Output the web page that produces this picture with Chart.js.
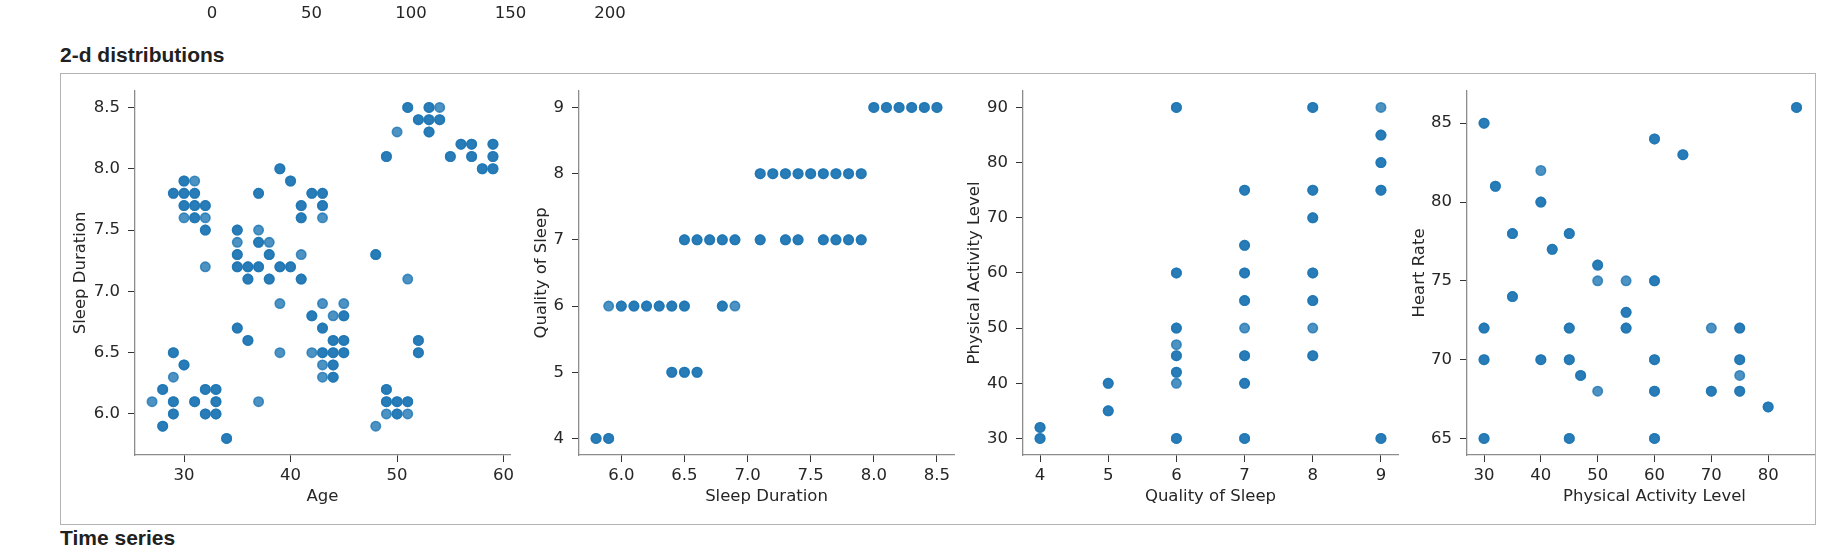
<!DOCTYPE html>
<html>
<head>
<meta charset="utf-8">
<script src="https://cdn.jsdelivr.net/npm/chart.js@4.4.0/dist/chart.umd.min.js"></script>
<style>
  body { margin: 0; background: #fff; width: 1822px; height: 552px; overflow: hidden; position: relative; font-family: "Liberation Sans", Arial, sans-serif; }
  h3 { position: absolute; left: 60px; margin: 0; font-size: 21px; line-height: 24px; font-weight: bold; color: #212121; }
  #box { position: absolute; left: 60px; top: 73px; width: 1754px; height: 450px; border: 1px solid #b3b3b3; overflow: hidden; }
  canvas { position: absolute; }
</style>
</head>
<body>
<canvas id="prev" width="560" height="40" style="left:150px;top:-10px"></canvas>
<h3 style="top:43px">2-d distributions</h3>
<div id="box">
  <canvas id="c1" width="470" height="434"></canvas>
  <canvas id="c2" width="470" height="434"></canvas>
  <canvas id="c3" width="470" height="434"></canvas>
  <canvas id="c4" width="470" height="434"></canvas>
</div>
<h3 style="top:526px">Time series</h3>
<script>
// tick labels left over from the chart above (only its x axis is visible)
let prevTicks = [0, 50, 100, 150, 200];

let ageTicks = [30, 40, 50, 60];
let sleepTicks = [6.0, 6.5, 7.0, 7.5, 8.0, 8.5];
let qualityTicks = [4, 5, 6, 7, 8, 9];
let activityTicks = [30, 40, 50, 60, 70, 80, 90];
let heartTicks = [65, 70, 75, 80, 85];

// Age vs Sleep Duration: ages seen on each sleep-duration row
let sleepRows = [8.5, 8.4, 8.3, 8.2, 8.1, 8.0, 7.9, 7.8, 7.7, 7.6, 7.5, 7.4, 7.3, 7.2, 7.1,
                 6.9, 6.8, 6.7, 6.6, 6.5, 6.4, 6.3, 6.2, 6.1, 6.0, 5.9, 5.8];
let agesOnRow = [
  [51, 51, 53, 53, 54],
  [52, 52, 53, 53, 54, 54],
  [50, 53, 53],
  [56, 56, 57, 57, 59, 59],
  [49, 49, 55, 55, 57, 57, 59, 59],
  [39, 39, 58, 58, 59, 59],
  [30, 30, 31, 40, 40],
  [29, 29, 30, 30, 31, 31, 37, 37, 42, 42, 43, 43],
  [30, 30, 31, 31, 32, 32, 41, 41, 43, 43],
  [30, 31, 31, 32, 41, 41, 43],
  [32, 32, 35, 35, 37],
  [35, 37, 37, 38],
  [35, 35, 38, 38, 41, 48, 48],
  [32, 35, 35, 36, 36, 37, 37, 39, 39, 40, 40],
  [36, 36, 38, 38, 41, 41, 51],
  [39, 43, 45],
  [42, 42, 44, 45, 45],
  [35, 35, 43, 43],
  [36, 36, 44, 44, 45, 45, 52, 52],
  [29, 29, 39, 42, 43, 43, 44, 44, 45, 45, 52, 52],
  [30, 30, 43, 44, 44],
  [29, 43, 44, 44],
  [28, 28, 32, 32, 33, 33, 49, 49],
  [27, 29, 29, 31, 31, 33, 33, 37, 49, 49, 50, 50, 51, 51],
  [29, 29, 32, 32, 33, 33, 49, 50, 50, 51],
  [28, 28, 48],
  [34, 34],
];

// Sleep Duration vs Quality of Sleep: durations seen on each quality row
let qualityRows = [9, 8, 7, 6, 5, 4];
let durationsOnRow = [
  [8.0, 8.0, 8.1, 8.1, 8.2, 8.2, 8.3, 8.3, 8.4, 8.4, 8.5, 8.5],
  [7.1, 7.1, 7.2, 7.2, 7.3, 7.3, 7.4, 7.4, 7.5, 7.5, 7.6, 7.6, 7.7, 7.7, 7.8, 7.8, 7.9, 7.9],
  [6.5, 6.5, 6.6, 6.6, 6.7, 6.7, 6.8, 6.8, 6.9, 6.9, 7.1, 7.1, 7.3, 7.3, 7.4, 7.4, 7.6, 7.6, 7.7, 7.7, 7.8, 7.8, 7.9, 7.9],
  [5.9, 6.0, 6.0, 6.1, 6.1, 6.2, 6.2, 6.3, 6.3, 6.4, 6.4, 6.5, 6.5, 6.8, 6.8, 6.9],
  [6.4, 6.4, 6.5, 6.5, 6.6, 6.6],
  [5.8, 5.8, 5.9, 5.9],
];

// Quality of Sleep vs Physical Activity Level: activity levels in each quality column
let qualityCols = [4, 5, 6, 7, 8, 9];
let activityInCol = [
  [30, 30, 32, 32],
  [35, 35, 40, 40],
  [30, 30, 40, 42, 42, 45, 45, 47, 50, 50, 60, 60, 90, 90],
  [30, 30, 40, 40, 45, 45, 50, 55, 55, 60, 60, 65, 65, 75, 75],
  [45, 45, 50, 55, 55, 60, 60, 70, 70, 75, 75, 90, 90],
  [30, 30, 75, 75, 80, 80, 85, 85, 90],
];

// Physical Activity Level vs Heart Rate
let activity = [30, 30, 30, 30, 30, 30, 30, 30, 32, 32, 35, 35, 35, 35, 40, 40, 40, 40, 40,
                42, 42, 45, 45, 45, 45, 45, 45, 45, 45, 47, 47, 50, 50, 50, 50, 55, 55, 55, 55, 55,
                60, 60, 60, 60, 60, 60, 60, 60, 60, 60, 65, 65, 70, 70, 70, 75, 75, 75, 75, 75, 75, 75,
                80, 80, 85, 85];
let heartRate = [85, 85, 72, 72, 70, 70, 65, 65, 81, 81, 78, 78, 74, 74, 82, 80, 80, 70, 70,
                 77, 77, 78, 78, 72, 72, 70, 70, 65, 65, 69, 69, 76, 76, 75, 68, 75, 73, 73, 72, 72,
                 84, 84, 75, 75, 70, 70, 68, 68, 65, 65, 83, 83, 72, 68, 68, 72, 72, 70, 70, 69, 68, 68,
                 67, 67, 86, 86];

const dot = "rgba(31,119,180,0.8)";
const ink = "#262626";
const tickFont = { family: "DejaVu Sans", size: 16.5 };

function rowsToPoints(rowVals, groups, rowIsY) {
  let pts = [];
  groups.forEach((g, i) => g.forEach((v) => pts.push(rowIsY ? { x: v, y: rowVals[i] } : { x: rowVals[i], y: v })));
  return pts;
}

// matplotlib-style 5% margins
function limits(vals) {
  let lo = Math.min(...vals), hi = Math.max(...vals);
  return [lo - 0.05 * (hi - lo), hi + 0.05 * (hi - lo)];
}

function axis(def, dir) {
  let [lo, hi] = limits(def.vals);
  return {
    type: "linear",
    min: lo,
    max: hi,
    afterBuildTicks: (s) => { s.ticks = def.ticks.map((v) => ({ value: v })); },
    afterFit: (s) => {
      if (dir === "x") s.height = 52;
      else s.width = 70;
    },
    grid: { display: true, drawOnChartArea: false, drawTicks: true, tickLength: 7, tickColor: "#333", tickWidth: 1 },
    border: { display: true, color: "#8c8c8c", width: 1.3 },
    ticks: {
      autoSkip: false,
      maxRotation: 0,
      font: tickFont,
      color: ink,
      padding: dir === "x" ? 4 : 8,
      callback: def.fmt || ((v) => v),
    },
    title: {
      display: true,
      text: def.title,
      font: tickFont,
      color: ink,
      padding: dir === "x" ? { top: 0, bottom: 0 } : { top: def.titlePad, bottom: 0 },
    },
  };
}

function makePanel(id, axisLeft, points, xDef, yDef) {
  let cv = document.getElementById(id);
  cv.style.left = axisLeft - 70 - 61 + "px";
  cv.style.top = "-1px";
  new Chart(cv, {
    type: "scatter",
    data: {
      datasets: [{
        data: points,
        backgroundColor: dot,
        borderColor: dot,
        borderWidth: 1.6,
        pointRadius: 4.7,
        pointHoverRadius: 4.7,
      }],
    },
    options: {
      responsive: false,
      animation: false,
      events: [],
      layout: { padding: { top: 0, right: 25, left: 0, bottom: 0 } },
      plugins: { legend: { display: false }, tooltip: { enabled: false } },
      scales: { x: axis(xDef, "x"), y: axis(yDef, "y") },
    },
  });
}

const oneDec = (v) => v.toFixed(1);

let p1 = rowsToPoints(sleepRows, agesOnRow, true);
makePanel("c1", 135, p1,
  { vals: p1.map((p) => p.x), ticks: ageTicks, title: "Age" },
  { vals: p1.map((p) => p.y), ticks: sleepTicks, fmt: oneDec, title: "Sleep Duration", titlePad: 6.1 });

let p2 = rowsToPoints(qualityRows, durationsOnRow, true);
makePanel("c2", 579, p2,
  { vals: p2.map((p) => p.x), ticks: sleepTicks, fmt: oneDec, title: "Sleep Duration" },
  { vals: p2.map((p) => p.y), ticks: qualityTicks, title: "Quality of Sleep", titlePad: 23.1 });

let p3 = rowsToPoints(qualityCols, activityInCol, false);
makePanel("c3", 1023, p3,
  { vals: p3.map((p) => p.x), ticks: qualityTicks, title: "Quality of Sleep" },
  { vals: p3.map((p) => p.y), ticks: activityTicks, title: "Physical Activity Level", titlePad: 12.1 });

// same activity column as panel 3, so the x range also covers its 90s
let p4 = activity.map((a, i) => ({ x: a, y: heartRate[i] }));
makePanel("c4", 1467, p4,
  { vals: activity.concat(p3.map((p) => p.y)), ticks: activityTicks, title: "Physical Activity Level" },
  { vals: heartRate, ticks: heartTicks, title: "Heart Rate", titlePad: 13.1 });

// remnant x axis of the previous output
new Chart(document.getElementById("prev"), {
  type: "scatter",
  data: { datasets: [] },
  options: {
    responsive: false,
    animation: false,
    events: [],
    layout: { padding: 0 },
    plugins: { legend: { display: false }, tooltip: { enabled: false } },
    scales: {
      x: {
        type: "linear",
        min: -62 / 1.99,
        max: (560 - 62) / 1.99,
        afterBuildTicks: (s) => { s.ticks = prevTicks.map((v) => ({ value: v })); },
        afterFit: (s) => { s.height = 30; },
        grid: { display: false, drawTicks: false },
        border: { display: false },
        ticks: { font: tickFont, color: ink, padding: 3.5, autoSkip: false, maxRotation: 0 },
      },
      y: { display: false, min: 0, max: 1 },
    },
  },
});
</script>
</body>
</html>
